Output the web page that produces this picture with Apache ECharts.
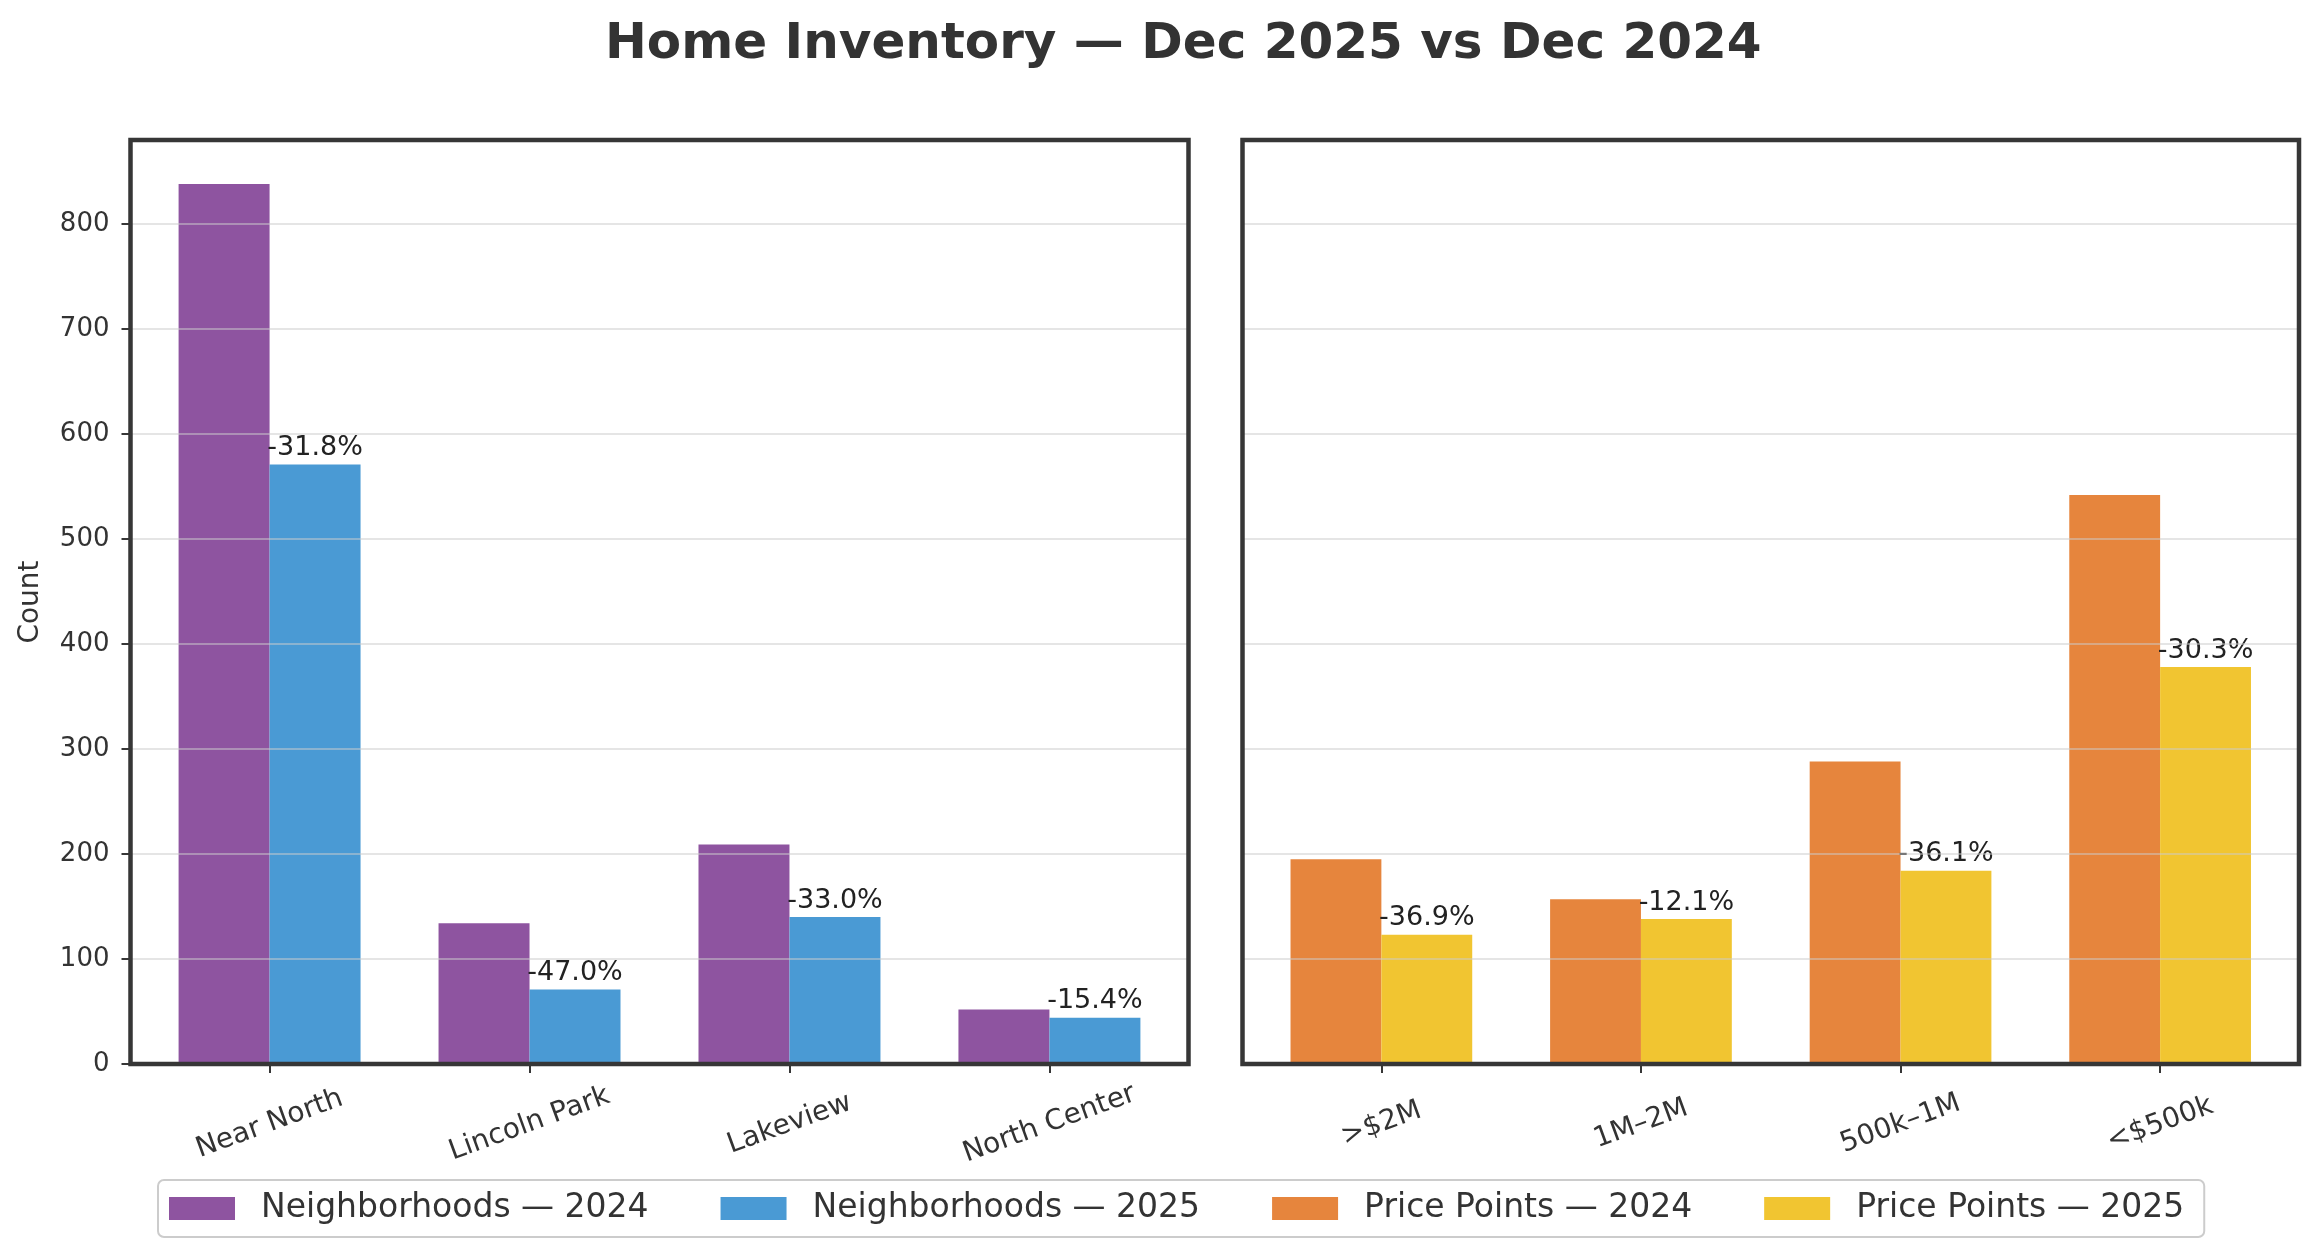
<!DOCTYPE html>
<html><head><meta charset="utf-8">
<script src="https://cdn.jsdelivr.net/npm/echarts@6/dist/echarts.min.js"></script>
<style>html,body{margin:0;padding:0;background:#fff}#c{width:2321px;height:1260px}</style>
</head><body><div id="c"></div>
<script>
const neighborhoods = ['Near North', 'Lincoln Park', 'Lakeview', 'North Center'];
const nb2024 = [838, 134, 209, 52];
const nb2025 = [571, 71, 140, 44];
const nbChange = ['-31.8%', '-47.0%', '-33.0%', '-15.4%'];
const pricePoints = ['>$2M', '1M–2M', '500k–1M', '<$500k'];
const pp2024 = [195, 157, 288, 542];
const pp2025 = [123, 138, 184, 378];
const ppChange = ['-36.9%', '-12.1%', '-36.1%', '-30.3%'];
const yTicks = [0, 100, 200, 300, 400, 500, 600, 700, 800];
const catIdx = [0, 1, 2, 3];

const FONT = 'DejaVu Sans';
const TXT = '#333333';
const FRAME = '#363636';
const colors = { nb24: '#8E54A0', nb25: '#4A9AD4', pp24: '#E6853D', pp25: '#F1C531' };

function xAxisFor(gridIndex, cats) {
  return {
    type: 'value', gridIndex, min: -0.535, max: 3.535,
    axisLine: { show: false, onZero: false },
    splitLine: { show: false },
    axisTick: { show: true, length: 9, customValues: catIdx, lineStyle: { color: FRAME, width: 2 } },
    axisLabel: {
      customValues: catIdx, formatter: v => cats[Math.round(v)] ?? '',
      rotate: 20, align: 'center', verticalAlign: 'middle', margin: 60,
      fontSize: 28, color: TXT, fontFamily: FONT
    }
  };
}
function yAxisFor(gridIndex, showLabels) {
  return {
    type: 'value', gridIndex, min: 0, max: 880, interval: 100, z: 3,
    name: showLabels ? 'Count' : '', nameLocation: 'middle', nameGap: 86,
    nameTextStyle: { fontSize: 28, color: TXT, fontFamily: FONT },
    axisLine: { show: false, onZero: false },
    axisTick: { show: showLabels, length: 9, customValues: yTicks, lineStyle: { color: FRAME, width: 2 } },
    axisLabel: { show: showLabels, customValues: yTicks, margin: 21, fontSize: 26, color: TXT, fontFamily: FONT },
    splitLine: { show: true, lineStyle: { color: 'rgba(204,204,204,0.5)', width: 2 } }
  };
}
function barSeries(name, vals, color, xi, labels) {
  const s = {
    type: 'bar', name, xAxisIndex: xi, yAxisIndex: xi,
    data: vals.map((v, i) => [i, v]),
    barWidth: '35%', barGap: '0%',
    itemStyle: { color },
    emphasis: { disabled: true }
  };
  if (labels) {
    s.label = {
      show: true, position: 'top', distance: 3,
      formatter: p => labels[p.dataIndex],
      fontSize: 27, color: '#222222', fontFamily: FONT
    };
  }
  return s;
}

const chart = echarts.init(document.getElementById('c'), null, { renderer: 'canvas' });
chart.setOption({
  animation: false,
  backgroundColor: '#ffffff',
  textStyle: { fontFamily: FONT },
  title: {
    text: 'Home Inventory — Dec 2025 vs Dec 2024',
    left: 600, top: 15,
    textStyle: { fontSize: 50, fontWeight: 'bold', color: TXT, fontFamily: FONT }
  },
  legend: {
    left: 158, top: 1180,
    data: ['Neighborhoods — 2024', 'Neighborhoods — 2025', 'Price Points — 2024', 'Price Points — 2025'],
    icon: 'rect', itemWidth: 66, itemHeight: 23, itemGap: 72,
    padding: [12, 20, 12, 11],
    borderColor: '#cccccc', borderWidth: 2, borderRadius: 6,
    textStyle: { fontSize: 33, color: TXT, fontFamily: FONT, padding: [0, 0, 0, 21] }
  },
  grid: [
    { left: 130.5, right: 2321 - 1188.5, top: 140, bottom: 1260 - 1064, show: true, z: 6,
      borderColor: FRAME, borderWidth: 4.5, backgroundColor: 'transparent' },
    { left: 1242.5, right: 2321 - 2299, top: 140, bottom: 1260 - 1064, show: true, z: 6,
      borderColor: FRAME, borderWidth: 4.5, backgroundColor: 'transparent' }
  ],
  xAxis: [xAxisFor(0, neighborhoods), xAxisFor(1, pricePoints)],
  yAxis: [yAxisFor(0, true), yAxisFor(1, false)],
  series: [
    barSeries('Neighborhoods — 2024', nb2024, colors.nb24, 0, null),
    barSeries('Neighborhoods — 2025', nb2025, colors.nb25, 0, nbChange),
    barSeries('Price Points — 2024', pp2024, colors.pp24, 1, null),
    barSeries('Price Points — 2025', pp2025, colors.pp25, 1, ppChange)
  ]
});
</script>
</body></html>
